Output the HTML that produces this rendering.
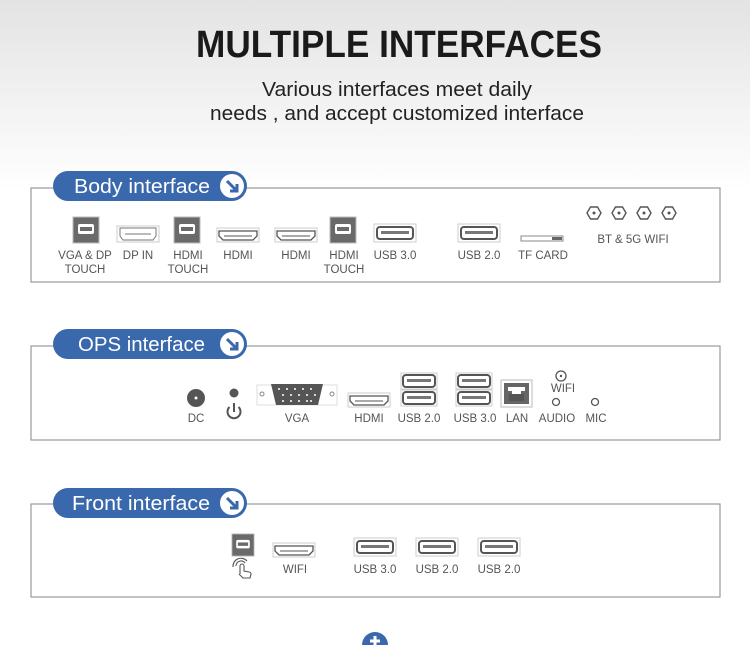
<!DOCTYPE html>
<html><head><meta charset="utf-8"><style>
html,body{margin:0;padding:0;width:750px;height:645px;overflow:hidden;background:#fff}
svg{display:block}
text{font-family:"Liberation Sans",sans-serif}
</style></head><body>
<svg width="750" height="645" viewBox="0 0 750 645" xmlns="http://www.w3.org/2000/svg">
<defs>
<linearGradient id="bg" x1="0" y1="0" x2="0" y2="1">
<stop offset="0" stop-color="#e3e3e3"/><stop offset="1" stop-color="#ffffff"/>
</linearGradient>
<g id="usbb"><rect x="-13" y="-13" width="26" height="26" fill="#6a6a6a" stroke="#bbb" stroke-width="1"/><rect x="-8" y="-6" width="16" height="10" rx="2" fill="#fff"/><rect x="-6" y="-3" width="12" height="4" fill="#6a6a6a"/></g>
<g id="hdmi"><rect x="-21" y="-7" width="42" height="14" fill="#fff" stroke="#ccc"/><path d="M-19,-4 H19 V1 L15,5 H-15 L-19,1 Z" fill="#fff" stroke="#555" stroke-width="1.3"/><line x1="-14" y1="1" x2="14" y2="1" stroke="#555"/></g>
<g id="usba"><rect x="-21" y="-9" width="42" height="18" fill="#fff" stroke="#ccc"/><rect x="-18" y="-6" width="36" height="12" rx="3" fill="#fff" stroke="#555" stroke-width="2"/><rect x="-14" y="-2" width="28" height="3" fill="#777"/></g>
<g id="usbs"><rect x="-18" y="-8" width="36" height="16" fill="#fff" stroke="#ccc"/><rect x="-16" y="-6" width="32" height="12" rx="3" fill="#fff" stroke="#555" stroke-width="2"/><rect x="-12" y="-2" width="24" height="3" fill="#777"/></g>
<g id="ant"><polygon points="-7,0 -3.5,-6 3.5,-6 7,0 3.5,6 -3.5,6" fill="#fff" stroke="#555" stroke-width="1.4"/><circle r="1.5" fill="#555"/></g>
<g id="arr"><circle r="12" fill="#fff"/><path d="M-5,-5 L5,5 M5,-2 V5 H-2" stroke="#3a68ad" stroke-width="3" fill="none"/></g>
</defs>
<rect width="750" height="190" fill="url(#bg)"/>
<text x="399" y="57" text-anchor="middle" font-size="38" font-weight="bold" fill="#1a1a1a" textLength="406" lengthAdjust="spacingAndGlyphs">MULTIPLE INTERFACES</text>
<text x="397" y="96" text-anchor="middle" font-size="20" fill="#222" textLength="270" lengthAdjust="spacingAndGlyphs">Various interfaces meet daily</text>
<text x="397" y="120" text-anchor="middle" font-size="20" fill="#222" textLength="374" lengthAdjust="spacingAndGlyphs">needs , and accept customized interface</text>

<g fill="none" stroke="#999" stroke-width="1.2">
<rect x="31" y="188" width="689" height="94"/>
<rect x="31" y="346" width="689" height="94"/>
<rect x="31" y="504" width="689" height="93"/>
</g>
<g fill="#3a68ad">
<rect x="53" y="171" width="194" height="30" rx="15"/>
<rect x="53" y="329" width="194" height="30" rx="15"/>
<rect x="53" y="488" width="194" height="30" rx="15"/>
</g>
<g fill="#fff" font-size="20">
<text x="74" y="193" textLength="136" lengthAdjust="spacingAndGlyphs">Body interface</text>
<text x="78" y="351" textLength="127" lengthAdjust="spacingAndGlyphs">OPS interface</text>
<text x="72" y="510" textLength="138" lengthAdjust="spacingAndGlyphs">Front interface</text>
</g>
<use href="#arr" x="232" y="186"/><use href="#arr" x="232" y="344"/><use href="#arr" x="232" y="503"/>

<!-- Body -->
<use href="#usbb" x="86" y="230"/>
<g><rect x="117" y="226" width="42" height="16" fill="#fff" stroke="#ccc"/><path d="M120,228 H156 V236 L153,240 H123 L120,236 Z" fill="#fff" stroke="#777"/><line x1="125" y1="234" x2="151" y2="234" stroke="#777"/></g>
<use href="#usbb" x="187" y="230"/>
<use href="#hdmi" x="238" y="235"/>
<use href="#hdmi" x="296" y="235"/>
<use href="#usbb" x="343" y="230"/>
<use href="#usba" x="395" y="233"/>
<use href="#usba" x="479" y="233"/>
<rect x="521" y="236" width="42" height="5" fill="#fff" stroke="#888"/><rect x="552" y="237" width="10" height="3" fill="#666"/>
<use href="#ant" x="594" y="213"/><use href="#ant" x="619" y="213"/><use href="#ant" x="644" y="213"/><use href="#ant" x="669" y="213"/>
<g fill="#555" font-size="11.5" text-anchor="middle">
<text x="85" y="259">VGA &amp; DP</text><text x="85" y="273">TOUCH</text>
<text x="138" y="259">DP IN</text>
<text x="188" y="259">HDMI</text><text x="188" y="273">TOUCH</text>
<text x="238" y="259">HDMI</text>
<text x="296" y="259">HDMI</text>
<text x="344" y="259">HDMI</text><text x="344" y="273">TOUCH</text>
<text x="395" y="259">USB 3.0</text>
<text x="479" y="259">USB 2.0</text>
<text x="543" y="259">TF CARD</text>
<text x="633" y="243">BT &amp; 5G WIFI</text>
</g>

<!-- OPS -->
<circle cx="196" cy="398" r="9" fill="#555"/><circle cx="196" cy="398" r="1.5" fill="#fff"/>
<circle cx="234" cy="393" r="4.5" fill="#555"/>
<path d="M229.5,407 A6.5,6.5 0 1 0 238.5,407" fill="none" stroke="#555" stroke-width="2"/><line x1="234" y1="403" x2="234" y2="412" stroke="#555" stroke-width="2"/>
<g><rect x="257" y="385" width="80" height="20" fill="#fff" stroke="#ddd"/><circle cx="262" cy="394" r="2" fill="none" stroke="#888"/><circle cx="332" cy="394" r="2" fill="none" stroke="#888"/><path d="M271,384 H323 L318,405 H276 Z" fill="#555"/>
<g fill="#fff"><circle cx="279" cy="389" r="1"/><circle cx="287" cy="389" r="1"/><circle cx="295" cy="389" r="1"/><circle cx="303" cy="389" r="1"/><circle cx="311" cy="389" r="1"/><circle cx="283" cy="395" r="1"/><circle cx="291" cy="395" r="1"/><circle cx="299" cy="395" r="1"/><circle cx="307" cy="395" r="1"/><circle cx="315" cy="395" r="1"/><circle cx="283" cy="401" r="1"/><circle cx="291" cy="401" r="1"/><circle cx="299" cy="401" r="1"/><circle cx="307" cy="401" r="1"/><circle cx="311" cy="401" r="1"/></g></g>
<use href="#hdmi" x="369" y="400"/>
<use href="#usbs" x="419" y="381"/><use href="#usbs" x="419" y="398"/>
<use href="#usbs" x="474" y="381"/><use href="#usbs" x="474" y="398"/>
<rect x="501" y="380" width="31" height="27" fill="#fff" stroke="#bbb"/><rect x="504" y="383" width="25" height="21" fill="#666"/><path d="M508,387 H525 V391 H521 V394 H512 V391 H508 Z" fill="#fff"/><rect x="509" y="394" width="15" height="7" fill="#555"/>
<circle cx="561" cy="376" r="5" fill="#fff" stroke="#555" stroke-width="1.3"/><circle cx="561" cy="376" r="1.2" fill="#555"/>
<circle cx="556" cy="402" r="3.5" fill="#fff" stroke="#555" stroke-width="1.3"/>
<circle cx="595" cy="402" r="3.5" fill="#fff" stroke="#555" stroke-width="1.3"/>
<g fill="#555" font-size="11.5" text-anchor="middle">
<text x="196" y="422">DC</text>
<text x="297" y="422">VGA</text>
<text x="369" y="422">HDMI</text>
<text x="419" y="422">USB 2.0</text>
<text x="475" y="422">USB 3.0</text>
<text x="517" y="422">LAN</text>
<text x="563" y="392">WIFI</text>
<text x="557" y="422">AUDIO</text>
<text x="596" y="422">MIC</text>
</g>

<!-- Front -->
<g transform="translate(243,545) scale(0.85)"><use href="#usbb"/></g>
<g fill="none" stroke="#555" stroke-width="1.1"><path d="M240,574 V566 a2,2 0 0 1 4,0 V571 l5,1 a2,2 0 0 1 2,2 l-1,4 h-7 l-4,-4"/><path d="M236,566 a5,5 0 0 1 9,-3 M233,567 a8,8 0 0 1 14,-6"/></g>
<use href="#hdmi" x="294" y="550"/>
<use href="#usba" x="375" y="547"/>
<use href="#usba" x="437" y="547"/>
<use href="#usba" x="499" y="547"/>
<g fill="#555" font-size="11.5" text-anchor="middle">
<text x="295" y="573">WIFI</text>
<text x="375" y="573">USB 3.0</text>
<text x="437" y="573">USB 2.0</text>
<text x="499" y="573">USB 2.0</text>
</g>

<circle cx="375" cy="645" r="13" fill="#3a68ad"/>
<path d="M375,636 V645 M370,641 H380" stroke="#fff" stroke-width="3"/>
</svg>
</body></html>
